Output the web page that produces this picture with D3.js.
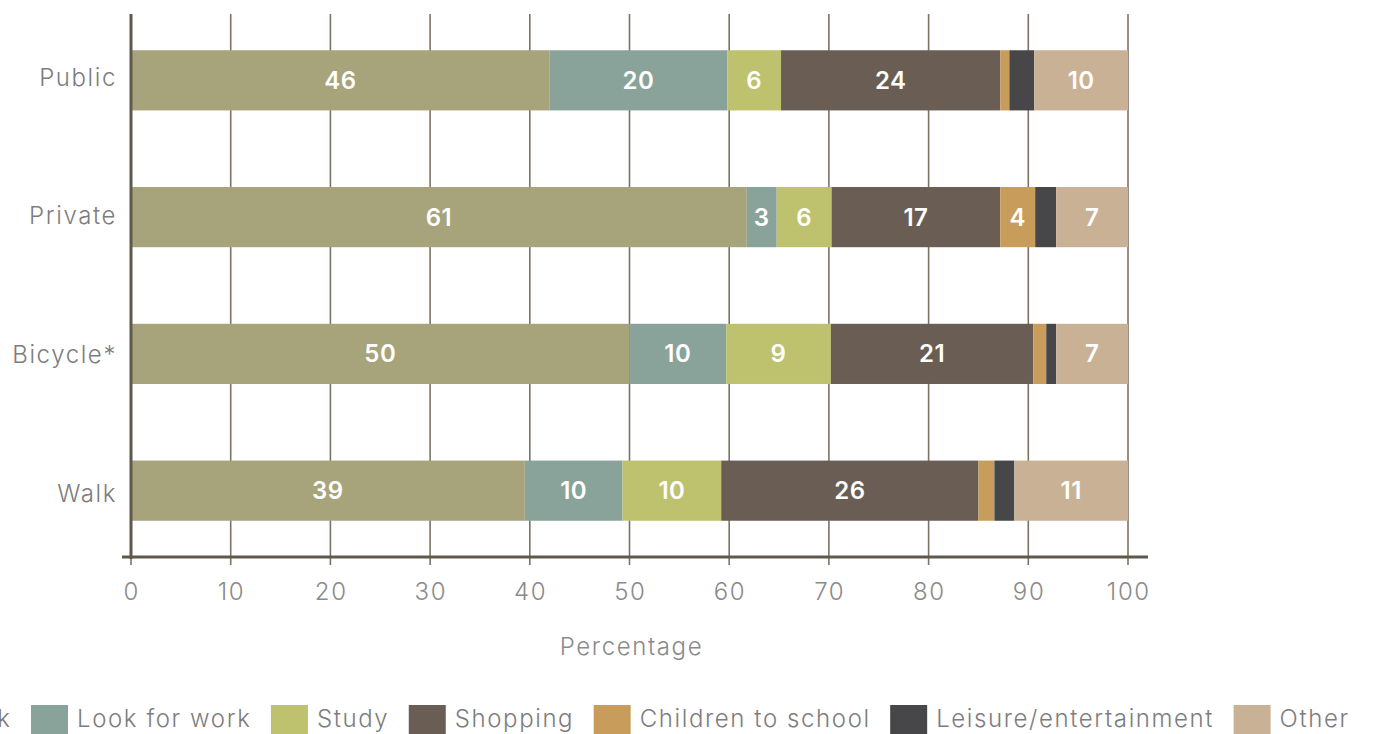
<!DOCTYPE html>
<html>
<head>
<meta charset="utf-8">
<script src="https://cdn.jsdelivr.net/npm/d3@7"></script>
<style>
  html, body { margin: 0; padding: 0; background: #ffffff; }
  svg { display: block; }
  text { font-family: Inter, "Open Sans", sans-serif; }
</style>
</head>
<body>
<svg id="chart" width="1373" height="734"></svg>
<script>
// ---- data ----
const categories = ["Public", "Private", "Bicycle*", "Walk"];
const seriesNames = ["Work", "Look for work", "Study", "Shopping", "Children to school", "Leisure/entertainment", "Other"];
const seriesColors = ["#a7a37b", "#8aa39a", "#bec26f", "#6a5e54", "#c89d5b", "#474749", "#c9b196"];
// segment shares (percent of each bar)
const workValues      = [42.0, 61.7, 50.0, 39.5];
const lookWorkValues  = [17.8,  3.0,  9.7,  9.8];
const studyValues     = [ 5.4,  5.5, 10.5,  9.9];
const shoppingValues  = [22.0, 16.9, 20.3, 25.8];
const childrenValues  = [ 0.9,  3.5,  1.3,  1.6];
const leisureValues   = [ 2.5,  2.1,  1.0,  2.0];
const otherValues     = [ 9.4,  7.2,  7.2, 11.4];
// numbers printed inside the segments (null = no label)
const workLabels      = [46, 61, 50, 39];
const lookWorkLabels  = [20, 3, 10, 10];
const studyLabels     = [6, 6, 9, 10];
const shoppingLabels  = [24, 17, 21, 26];
const childrenLabels  = [null, 4, null, null];
const leisureLabels   = [null, null, null, null];
const otherLabels     = [10, 7, 7, 11];
const xTicks = [0, 10, 20, 30, 40, 50, 60, 70, 80, 90, 100];
const xTitle = "Percentage";

const seriesValues = [workValues, lookWorkValues, studyValues, shoppingValues, childrenValues, leisureValues, otherValues];
const seriesLabels = [workLabels, lookWorkLabels, studyLabels, shoppingLabels, childrenLabels, leisureLabels, otherLabels];

(function () {
const rows = categories.map((c, i) => {
  const r = { category: c };
  seriesNames.forEach((s, j) => { r[s] = seriesValues[j][i]; });
  return r;
});

// ---- layout ----
const svg = d3.select("#chart");
const pL = 131, pR = 1128, pT = 14, pB = 557;
const LS = 1.6; // letter spacing for light texts

const x = d3.scaleLinear().domain([0, 1]).range([pL, pR]);
const xPct = d3.scaleLinear().domain([0, 100]).range([pL, pR]);
const y = d3.scaleBand().domain(categories).range([pT, pB]).paddingInner(0.56).paddingOuter(0.265);
const yLab = d3.scalePoint().domain(categories).range([pT + 63, pB - 64]);

const stack = d3.stack().keys(seriesNames).offset(d3.stackOffsetExpand);
const stacked = stack(rows);

// grid lines
svg.append("g").selectAll("line").data(xTicks).join("line")
  .attr("x1", d => xPct(d)).attr("x2", d => xPct(d))
  .attr("y1", pT).attr("y2", pB + 8)
  .attr("stroke", "#7b7466").attr("stroke-width", 1.6);

// bars
const g = svg.append("g");
stacked.forEach((layer, j) => {
  g.append("g").attr("fill", seriesColors[j]).selectAll("rect").data(layer).join("rect")
    .attr("x", d => x(d[0]))
    .attr("y", d => y(d.data.category))
    .attr("width", d => x(d[1]) - x(d[0]))
    .attr("height", y.bandwidth());
});

// value labels
stacked.forEach((layer, j) => {
  g.append("g").selectAll("text").data(layer.filter((d, i) => seriesLabels[j][i] != null)).join("text")
    .attr("x", d => (x(d[0]) + x(d[1])) / 2)
    .attr("y", d => y(d.data.category) + y.bandwidth() / 2 + 8.5)
    .attr("text-anchor", "middle")
    .attr("fill", "#ffffff")
    .attr("font-size", 24)
    .attr("font-weight", 600)
    .attr("letter-spacing", 0.5)
    .text(d => seriesLabels[j][categories.indexOf(d.data.category)]);
});

// y axis line
svg.append("line").attr("x1", pL).attr("x2", pL).attr("y1", pT).attr("y2", pB + 2)
  .attr("stroke", "#5f584c").attr("stroke-width", 3);
// x axis line
svg.append("line").attr("x1", pL - 9).attr("x2", pR + 20).attr("y1", pB).attr("y2", pB)
  .attr("stroke", "#5f584c").attr("stroke-width", 3);

// category labels
svg.append("g").selectAll("text").data(categories).join("text")
  .attr("x", pL - 14)
  .attr("y", d => yLab(d) + 8.5)
  .attr("text-anchor", "end")
  .attr("fill", "#7d7d7d")
  .attr("font-size", 24)
  .attr("font-weight", 300)
  .attr("letter-spacing", LS)
  .text(d => d);

// x tick labels
svg.append("g").selectAll("text").data(xTicks).join("text")
  .attr("x", d => xPct(d) + LS / 2)
  .attr("y", 600)
  .attr("text-anchor", "middle")
  .attr("fill", "#8a8a8a")
  .attr("font-size", 24)
  .attr("font-weight", 300)
  .attr("letter-spacing", LS)
  .text(d => d);

// x title
svg.append("text")
  .attr("x", (pL + pR) / 2 + 2)
  .attr("y", 655)
  .attr("text-anchor", "middle")
  .attr("fill", "#8a8a8a")
  .attr("font-size", 24)
  .attr("font-weight", 300)
  .attr("letter-spacing", LS)
  .text(xTitle);

// legend (flow layout, anchored so that "Look for work" swatch sits at x=31)
const legend = svg.append("g");
const sw = 37, swH = 30, txtGap = 9, itemGap = 19.5, legY = 705;
const items = legend.selectAll("g").data(seriesNames).join("g");
items.append("rect").attr("width", sw).attr("height", swH).attr("fill", (d, i) => seriesColors[i]);
items.append("text").attr("x", sw + txtGap).attr("y", 22)
  .attr("fill", "#7d7d7d").attr("font-size", 24).attr("font-weight", 300)
  .attr("letter-spacing", LS).text(d => d);
const widths = [];
items.each(function () { widths.push(sw + txtGap + d3.select(this).select("text").node().getComputedTextLength()); });
let offsets = [], acc = 0;
widths.forEach(w => { offsets.push(acc); acc += w + itemGap; });
const shift = 31 - offsets[1];
items.attr("transform", (d, i) => `translate(${offsets[i] + shift},${legY})`);
})();
</script>
</body>
</html>
